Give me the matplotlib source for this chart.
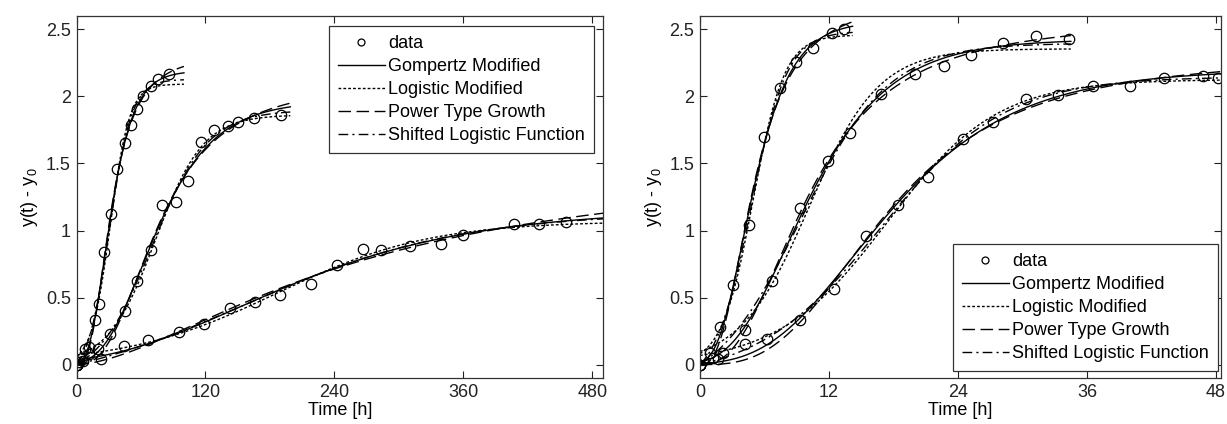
import numpy as np
import matplotlib
matplotlib.use('Agg')
import matplotlib.pyplot as plt
from matplotlib.ticker import FuncFormatter
from matplotlib.lines import Line2D

plt.rcParams['font.family'] = ['Liberation Sans', 'DejaVu Sans']
plt.rcParams['mathtext.fontset'] = 'custom'
plt.rcParams['mathtext.rm'] = 'Liberation Sans'

# === data ===
# left panel, time in h
t_a1 = [0, 2, 5, 8, 12, 17, 20.5, 26, 32.5, 38, 45, 51, 56, 62, 69, 76, 86.5]
y_a1 = [0, 0.02, 0.05, 0.12, 0.13, 0.33, 0.45, 0.84, 1.12, 1.46, 1.65, 1.79, 1.91, 2.0, 2.08, 2.13, 2.165]
t_a2 = [0, 6, 12, 20, 31, 45, 56, 69, 80, 93, 104, 116, 128, 141, 150, 165, 190]
y_a2 = [0, 0.03, 0.08, 0.12, 0.23, 0.40, 0.62, 0.855, 1.19, 1.21, 1.37, 1.66, 1.75, 1.78, 1.81, 1.84, 1.86]
t_a3 = [0, 23, 44, 67, 95, 119, 143, 166, 189, 218, 242, 267, 283, 310, 339, 360, 407, 430, 456]
y_a3 = [0, 0.045, 0.14, 0.18, 0.24, 0.30, 0.42, 0.47, 0.52, 0.60, 0.745, 0.86, 0.855, 0.885, 0.90, 0.97, 1.05, 1.05, 1.06]

# right panel
t_b1 = [0, 0.9, 1.9, 3.05, 4.6, 6.0, 7.4, 8.9, 10.5, 12.3, 13.4]
y_b1 = [0, 0.09, 0.28, 0.59, 1.04, 1.70, 2.06, 2.26, 2.36, 2.47, 2.50]
t_b2 = [0, 1.2, 2.1, 4.2, 6.7, 9.3, 11.9, 14.0, 16.8, 20.0, 22.7, 25.2, 28.2, 31.3, 34.3]
y_b2 = [0, 0.05, 0.09, 0.26, 0.62, 1.17, 1.52, 1.73, 2.02, 2.17, 2.23, 2.31, 2.40, 2.45, 2.43]
t_b3 = [0, 1.7, 4.2, 6.2, 9.3, 12.5, 15.4, 18.4, 21.2, 24.5, 27.3, 30.3, 33.3, 36.6, 40.0, 43.2, 46.8, 48.2]
y_b3 = [0, 0.04, 0.15, 0.19, 0.33, 0.565, 0.96, 1.19, 1.40, 1.68, 1.81, 1.98, 2.01, 2.08, 2.08, 2.14, 2.15, 2.14]

# how far each fitted curve is drawn
fit_end_a = [100, 199, 490]
fit_end_b = [14.2, 34.5, 48.5]

# rough start values for the fits: A, max rate, lag, time of inflection
guess_a = [(2.2, 0.055, 12, 31), (1.9, 0.019, 25, 75), (1.15, 0.0035, 0, 200)]
guess_b = [(2.52, 0.45, 1.8, 4.8), (2.45, 0.2, 3.5, 9.0), (2.2, 0.12, 7.0, 16.0)]

model_names = ['Gompertz Modified', 'Logistic Modified', 'Power Type Growth',
               'Shifted Logistic Function']


# === growth models ===
def gompertz(t, A, mu, lam):
    return A * np.exp(-np.exp(mu * np.e / A * (lam - t) + 1))


def logistic(t, A, mu, lam):
    return A / (1 + np.exp(4 * mu / A * (lam - t) + 2))


def power_growth(t, A, b, n):
    u = np.power(np.abs(t / b), n)
    return A * u / (1 + u)


def shifted_logistic(t, A, k, tc):
    return A * (1 / (1 + np.exp(-k * (t - tc))) - 1 / (1 + np.exp(k * tc)))


def start_values(g):
    A, mu, lam, tm = g
    return [(A, mu, lam), (A, mu, lam), (A, tm, 4 * mu * tm / A), (A, 4 * mu / A, tm)]


def fit(model, t, y, p0):
    # small Levenberg-Marquardt, numpy only
    t = np.asarray(t, float)
    y = np.asarray(y, float)
    p = np.array(p0, float)
    damp = 1e-2
    with np.errstate(all='ignore'):
        sse = np.sum((y - model(t, *p)) ** 2)
        for _ in range(400):
            r = y - model(t, *p)
            J = np.empty((len(t), len(p)))
            for j in range(len(p)):
                dp = np.zeros_like(p)
                dp[j] = 1e-6 * max(abs(p[j]), 1e-3)
                J[:, j] = (model(t, *(p + dp)) - model(t, *p)) / dp[j]
            H = J.T @ J
            try:
                step = np.linalg.solve(H + damp * np.diag(np.diag(H) + 1e-12), J.T @ r)
            except np.linalg.LinAlgError:
                break
            pn = p + step
            sse_n = np.sum((y - model(t, *pn)) ** 2)
            if np.isfinite(sse_n) and sse_n < sse:
                p, sse = pn, sse_n
                damp *= 0.3
            else:
                damp *= 10
            if damp > 1e10:
                break
    return p


models = [gompertz, logistic, power_growth, shifted_logistic]
styles = ['-', (0, (2, 1.5)), (0, (9, 4)), (0, (7, 3, 1.5, 3))]

fig = plt.figure(figsize=(12.27, 4.24), dpi=100)
ax1 = fig.add_axes([76.5 / 1227, 1 - 378 / 424, 526.5 / 1227, 362 / 424])
ax2 = fig.add_axes([700 / 1227, 1 - 378 / 424, 521 / 1227, 362 / 424])

panels = [
    (ax1, [(t_a1, y_a1), (t_a2, y_a2), (t_a3, y_a3)], fit_end_a, guess_a, (0, 490), [0, 120, 240, 360, 480]),
    (ax2, [(t_b1, y_b1), (t_b2, y_b2), (t_b3, y_b3)], fit_end_b, guess_b, (0, 48.47), [0, 12, 24, 36, 48]),
]

for ax, runs, ends, guesses, xlim, xticks in panels:
    for (t, y), t_end, g in zip(runs, ends, guesses):
        tt = np.linspace(0, t_end, 400)
        for model, ls, p0 in zip(models, styles, start_values(g)):
            p = fit(model, t, y, p0)
            with np.errstate(all='ignore'):
                ax.plot(tt, model(tt, *p), color='black', ls=ls, lw=1.0)
        ax.plot(t, y, 'o', mfc='none', mec='black', ms=7.5, mew=0.9)

    ax.set_xlim(*xlim)
    ax.set_ylim(-0.1, 2.6)
    ax.set_xticks(xticks)
    ax.set_yticks([0, 0.5, 1, 1.5, 2, 2.5])
    ax.yaxis.set_major_formatter(FuncFormatter(lambda v, pos: f'{v:g}'))
    ax.tick_params(direction='in', top=True, right=True, length=5, width=0.8,
                   labelsize=13, colors='#222222', pad=4)
    for s in ax.spines.values():
        s.set_color('#333333')
        s.set_linewidth(0.9)
    ax.set_xlabel('Time [h]', fontsize=13, labelpad=1)
    ax.set_ylabel(r'y(t) - y$_{\mathrm{0}}$', fontsize=13, labelpad=4)

handles = [Line2D([], [], ls='none', marker='o', mfc='none', mec='black', ms=5, mew=0.9)]
handles += [Line2D([], [], color='black', ls=ls, lw=1.0) for ls in styles]
labels = ['data'] + model_names

leg_kw = dict(fontsize=13, frameon=True, fancybox=False, framealpha=1, edgecolor='#333333',
              handlelength=2.6, handletextpad=0.2, labelspacing=0.33, borderpad=0.5,
              borderaxespad=0)
leg1 = ax1.legend(handles, labels, loc='upper right',
                  bbox_to_anchor=(1 - 9 / 526.5, 1 - 10 / 362), **leg_kw)
leg2 = ax2.legend(handles, labels, loc='lower right',
                  bbox_to_anchor=(1 - 3 / 521, 7 / 362), **leg_kw)
for leg in (leg1, leg2):
    leg.get_frame().set_linewidth(0.9)

fig.savefig('out.png', dpi=100)
